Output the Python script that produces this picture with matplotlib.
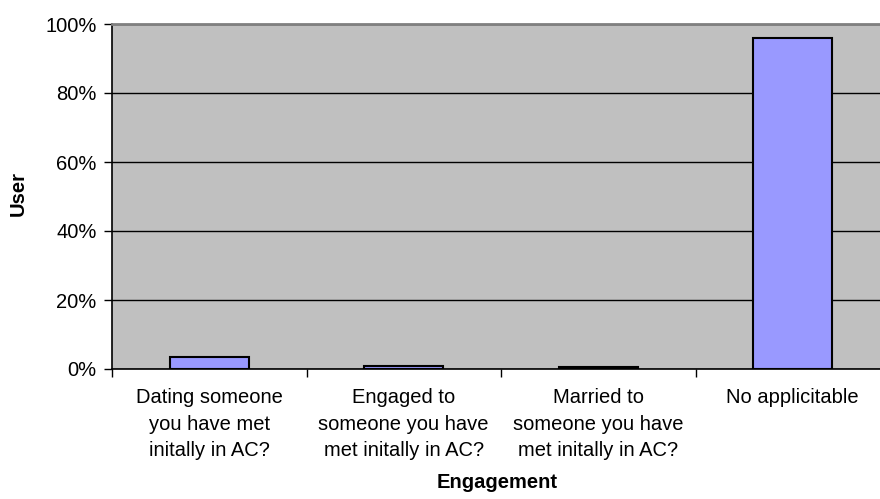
import numpy as np
import matplotlib.pyplot as plt
from matplotlib.ticker import FixedLocator, PercentFormatter

plt.rcParams["font.family"] = ["Liberation Sans", "DejaVu Sans"]

categories = [
    "Dating someone\nyou have met\ninitally in AC?",
    "Engaged to\nsomeone you have\nmet initally in AC?",
    "Married to\nsomeone you have\nmet initally in AC?",
    "No applicitable",
]
values = [3.4, 1.0, 0.5, 95.8]

fig = plt.figure(figsize=(8.8, 4.99), dpi=100)
W, H = 880, 499
ax = fig.add_axes([112 / W, 1 - 369 / H, 778 / W, 345 / H])
ax.set_facecolor("#C0C0C0")

x = np.arange(len(categories))
ax.bar(x, values, width=0.405, color="#9999FF", edgecolor="black", linewidth=1.5, zorder=3)

ax.set_xlim(-0.5, len(categories) - 0.5)
ax.set_ylim(0, 100)
ax.set_yticks(np.arange(0, 101, 20))
ax.yaxis.set_major_formatter(PercentFormatter(decimals=0))
ax.yaxis.grid(True, color="black", linewidth=1, zorder=1)

# category boundaries get the tick marks, labels sit at the centres
ax.xaxis.set_major_locator(FixedLocator(np.arange(-0.5, len(categories), 1.0)))
ax.set_xticklabels([])
ax.xaxis.set_minor_locator(FixedLocator(x))
ax.set_xticklabels(categories, minor=True, fontsize=14.5, linespacing=1.5)
ax.tick_params(axis="x", which="minor", length=0, pad=14)
ax.tick_params(axis="x", which="major", length=6, width=1, color="black")
ax.tick_params(axis="y", length=6, width=1, labelsize=14.5, pad=5)

for s in ["left", "bottom"]:
    ax.spines[s].set_color("black")
    ax.spines[s].set_linewidth(1.2)
ax.spines["top"].set_color("#808080")
ax.spines["top"].set_linewidth(2)
ax.spines["right"].set_visible(False)

fig.text(18 / W, 1 - 193 / H, "User", fontsize=14.5, fontweight="bold",
         rotation=90, ha="center", va="center")
fig.text(497 / W, 1 - 482 / H, "Engagement",
         fontsize=14.5, fontweight="bold", ha="center", va="center")

fig.savefig("out.png", dpi=100)
